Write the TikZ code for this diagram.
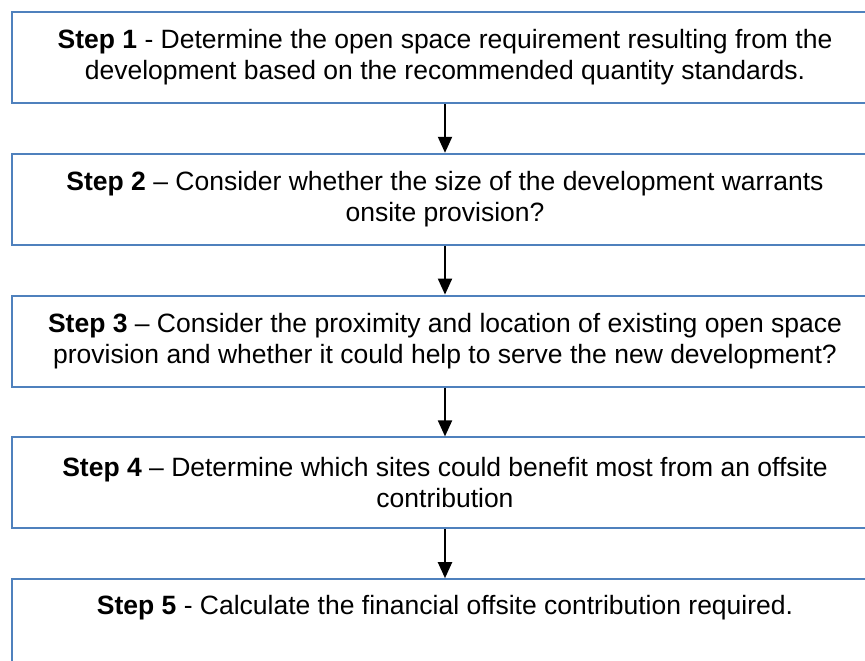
\documentclass[tikz,border=0pt]{standalone}
\usepackage{fontspec}
\setmainfont{Liberation Sans}
\usetikzlibrary{positioning,arrows.meta}
\definecolor{boxblue}{RGB}{79,129,189}

\begin{document}
\begin{tikzpicture}[x=1pt,y=1pt,
    stepbox/.style={draw=boxblue, line width=2pt, minimum width=866pt,
        minimum height=91pt, inner sep=0pt, align=center,
        font=\fontsize{26.5pt}{31pt}\selectfont},
    flow/.style={line width=2pt, -{Triangle[width=14pt,length=16pt]}},
    node distance=48.8pt]
\clip (0,0) rectangle (865,-661); % page frame, last box runs off it

% step boxes
\node[stepbox] (s1) at (445,-57.5) {\textbf{Step 1} - Determine the open space requirement resulting from the\\
    development based on the recommended quantity standards.};
\node[stepbox, below=of s1] (s2) {\textbf{Step 2} – Consider whether the size of the development warrants\\
    onsite provision?};
\node[stepbox, below=of s2] (s3) {\textbf{Step 3} – Consider the proximity and location of existing open space\\
    provision and whether it could help to serve the new development?};
\node[stepbox, below=of s3] (s4) {\textbf{Step 4} – Determine which sites could benefit most from an offsite\\
    contribution};
\node[stepbox, below=of s4, text depth=40pt] (s5) {\textbf{Step 5} - Calculate the financial offsite contribution required.};

% arrows between steps
\draw[flow] (s1) -- (s2);
\draw[flow] (s2) -- (s3);
\draw[flow] (s3) -- (s4);
\draw[flow] (s4) -- (s5);
\end{tikzpicture}
\end{document}
